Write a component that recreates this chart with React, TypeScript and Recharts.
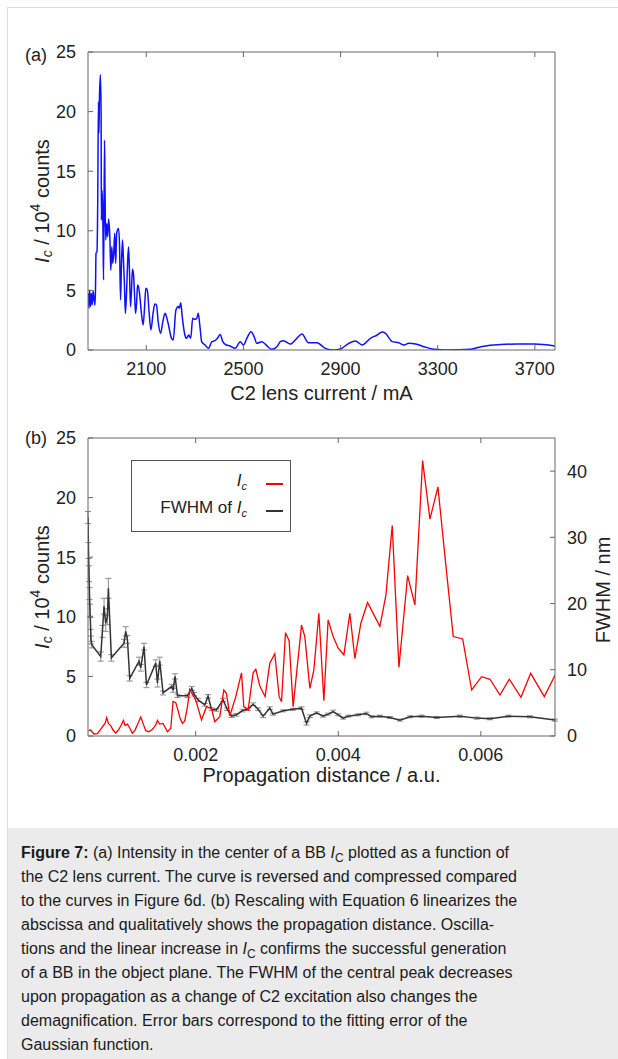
import React from "react";
import {
  LineChart,
  Line,
  XAxis,
  YAxis,
  Legend,
  ErrorBar,
} from "recharts";

// (a) centre intensity vs C2 lens current
const lensCurrent = [
  1860, 1862, 1864, 1867, 1870, 1874, 1877, 1881, 1885, 1889, 1891, 1893, 1897, 1900, 1903, 1905, 1907,
  1911, 1914, 1915, 1918, 1921, 1924, 1928, 1930, 1933, 1937, 1941, 1945, 1950, 1954, 1958, 1962, 1966,
  1970, 1974, 1978, 1982, 1986, 1990, 1994, 1998, 2002, 2006, 2010, 2014, 2019, 2023, 2027, 2031, 2035,
  2039, 2043, 2047, 2052, 2056, 2060, 2064, 2068, 2073, 2080, 2087, 2093, 2098, 2104, 2112, 2119, 2128,
  2135, 2142, 2149, 2159, 2167, 2177, 2181, 2190, 2204, 2211, 2222, 2232, 2236, 2242, 2248, 2259, 2266,
  2275, 2283, 2291, 2301, 2308, 2314, 2321, 2328, 2342, 2356, 2370, 2383, 2393, 2404, 2415, 2429, 2445,
  2466, 2487, 2500, 2514, 2531, 2544, 2555, 2576, 2597, 2617, 2638, 2652, 2665, 2693, 2720, 2741, 2768,
  2803, 2837, 2872, 2899, 2934, 2961, 2989, 3023, 3051, 3071, 3085, 3113, 3140, 3161, 3181, 3209, 3243,
  3285, 3340, 3436, 3478, 3560, 3629, 3698, 3783,
];
const centreIntensityA = [
  4.3, 4.75, 3.5, 5.03, 3.64, 4.75, 3.78, 4.95, 4.19, 3.78, 5.3, 8.11, 8.25, 12.3, 20.8, 18.2, 21.0,
  23.1, 19.9, 10.9, 13.4, 11.2, 5.87, 17.6, 13.7, 9.23, 10.6, 9.5, 11.0, 9.5, 6.7, 8.67, 7.27, 8.11,
  9.79, 7.27, 9.79, 10.1, 10.2, 8.67, 4.19, 7.27, 9.23, 7.55, 5.59, 3.07, 4.95, 7.27, 8.67, 6.43, 3.64,
  4.95, 6.77, 6.43, 4.47, 3.07, 3.91, 5.45, 5.3, 4.6, 3.08, 2.1, 3.6, 5.17, 5.03, 3.08, 1.68, 3.08,
  3.86, 3.78, 2.38, 1.4, 2.24, 3.08, 2.94, 2.24, 0.98, 0.84, 3.36, 3.64, 3.5, 3.97, 2.8, 1.26, 0.98,
  1.26, 0.98, 2.66, 2.57, 2.66, 3.08, 1.96, 0.7, 0.42, 0.14, 0.7, 0.78, 0.98, 1.31, 0.7, 0.42, 0.34,
  0.14, 0.7, 0.42, 0.98, 1.54, 1.12, 0.56, 0.7, 0.34, 0.06, 0.28, 0.7, 0.78, 0.5, 0.98, 1.34, 0.61,
  0.61, 0.14, 0.0, 0.08, 0.56, 0.75, 0.42, 0.98, 1.26, 1.51, 1.4, 0.7, 0.61, 0.42, 0.56, 0.5, 0.28,
  0.06, 0.0, 0.06, 0.28, 0.47, 0.5, 0.5, 0.34,
];
const currentTicks = [2100, 2500, 2900, 3300, 3700];
const countTicks = [0, 5, 10, 15, 20, 25];

// (b) rescaled: intensity and FWHM vs propagation distance
const distIc = [
  0.000496, 0.000528, 0.000574, 0.000622, 0.000668, 0.000701, 0.000729, 0.000752, 0.000776, 0.000809,
  0.000841, 0.000879, 0.000917, 0.000949, 0.000987, 0.001009, 0.001043, 0.001075, 0.001113, 0.00115,
  0.001192, 0.00123, 0.001262, 0.0013, 0.001346, 0.001394, 0.00144, 0.001464, 0.001496, 0.001543,
  0.001604, 0.001651, 0.001683, 0.001721, 0.001749, 0.001781, 0.001815, 0.001847, 0.001885, 0.001917,
  0.002002, 0.002082, 0.002152, 0.002222, 0.002268, 0.002338, 0.002395, 0.002432, 0.002479, 0.002563,
  0.002643, 0.002675, 0.002736, 0.002806, 0.002844, 0.0029, 0.002974, 0.00304, 0.00311, 0.003171,
  0.003204, 0.00326, 0.003311, 0.003367, 0.003485, 0.003531, 0.003602, 0.003658, 0.003728, 0.003798,
  0.003858, 0.003929, 0.003999, 0.004079, 0.004163, 0.004233, 0.004317, 0.004411, 0.0045, 0.004584,
  0.004668, 0.004757, 0.004851, 0.004973, 0.005075, 0.005183, 0.005286, 0.005398, 0.005506, 0.005613,
  0.005745, 0.005871, 0.006011, 0.006128, 0.006268, 0.006399, 0.006563, 0.006699, 0.00689, 0.00704,
];
const intensityB = [
  0.45, 0.5, 0.17, 0.2, 0.56, 0.84, 1.06, 1.54, 1.06, 0.87,
  0.5, 0.25, 0.5, 0.84, 1.3, 0.9, 1.0, 0.67, 0.22, 0.5,
  1.06, 1.6, 1.06, 0.45, 0.36, 0.56, 0.92, 1.3, 1.0, 1.06,
  0.36, 0.64, 2.9, 2.8, 2.24, 1.48, 1.06, 1.26, 2.46, 3.9,
  3.0, 1.34, 2.46, 2.3, 1.2, 1.62, 3.86, 3.58, 1.68, 3.3,
  5.3, 2.46, 2.18, 5.3, 5.6, 4.2, 3.3, 6.1, 6.9, 3.3,
  2.88, 8.67, 8.0, 2.46, 9.3, 8.34, 4.0, 5.54, 10.3, 2.96,
  9.74, 8.34, 7.36, 6.8, 10.3, 6.5, 9.46, 11.2, 10.16, 9.2,
  11.8, 17.66, 5.76, 13.46, 11.0, 23.1, 18.2, 20.9, 14.5, 8.34,
  8.14, 3.86, 4.98, 4.76, 3.44, 4.76, 3.25, 5.26, 3.3, 5.1,
];
const distFwhm = [
  0.00049, 0.000497, 0.000504, 0.000511, 0.000518, 0.000525, 0.000532, 0.000542, 0.000668, 0.000692,
  0.000715, 0.000738, 0.000762, 0.000776, 0.000818, 0.000995, 0.001019, 0.001043, 0.001075, 0.001206,
  0.00123, 0.001276, 0.00131, 0.00144, 0.001464, 0.001496, 0.001543, 0.001665, 0.001683, 0.001711,
  0.001745, 0.001885, 0.001945, 0.001978, 0.002034, 0.002128, 0.002174, 0.002222, 0.002292, 0.002385,
  0.002441, 0.002503, 0.002573, 0.002657, 0.002736, 0.002806, 0.002876, 0.002946, 0.00304, 0.003086,
  0.003227, 0.003367, 0.003485, 0.003555, 0.003602, 0.003696, 0.003788, 0.003858, 0.003929, 0.003999,
  0.004069, 0.004139, 0.004279, 0.004397, 0.004467, 0.004584, 0.004724, 0.004865, 0.005005, 0.005169,
  0.00538, 0.005707, 0.005941, 0.006128, 0.006385, 0.006689, 0.00704,
];
const fwhmNm = [
  33.0, 28, 24.5, 21.5, 19, 17, 14.5, 13.8, 12.0, 15.8,
  19.6, 17.0, 18, 22.3, 11.8, 14.0, 15.8, 14.6, 8.7, 11.3,
  10.3, 13.5, 7.7, 11.0, 8.0, 11.3, 6.5, 7.5, 6.9, 9.0,
  6.06, 6.06, 7.2, 6.3, 5.45, 4.7, 6.0, 4.04, 3.94, 5.45,
  4.04, 3.0, 3.2, 3.84, 4.04, 4.8, 4.04, 3.0, 4.2, 3.3,
  3.8, 4.04, 4.2, 1.9, 3.0, 3.5, 3.0, 3.3, 3.7, 3.2,
  2.7, 3.0, 3.2, 3.4, 2.9, 3.0, 2.8, 2.4, 2.9, 3.0,
  2.8, 3.0, 2.7, 2.6, 3.0, 2.9, 2.4,
];
const fwhmErr = [
  0.9, 1.2, 1.2, 0.9, 0.9, 0.9, 0.6, 0.5, 0.7, 0.9,
  1.2, 1.2, 1.2, 1.5, 0.5, 0.6, 0.7, 0.6, 0.4, 0.6,
  0.5, 0.5, 0.4, 0.5, 0.6, 0.6, 0.3, 0.3, 0.3, 0.4,
  0.25, 0.25, 0.3, 0.25, 0.25, 0.2, 0.25, 0.2, 0.2, 0.25,
  0.2, 0.2, 0.2, 0.2, 0.2, 0.2, 0.2, 0.2, 0.2, 0.15,
  0.15, 0.15, 0.2, 0.25, 0.2, 0.15, 0.15, 0.15, 0.2, 0.15,
  0.15, 0.15, 0.15, 0.2, 0.15, 0.15, 0.15, 0.15, 0.15, 0.15,
  0.15, 0.15, 0.15, 0.15, 0.15, 0.15, 0.15,
];
const distTicks = [0.002, 0.004, 0.006];
const fwhmTicks = [0, 10, 20, 30, 40];

const dataA = lensCurrent.map((x, i) => ({ x, y: centreIntensityA[i] }));
const dataIc = distIc.map((x, i) => ({ x, y: intensityB[i] }));
const dataFwhm = distFwhm.map((x, i) => ({ x, y: fwhmNm[i], err: fwhmErr[i] }));

const FONT = "'Liberation Sans', Arial, Helvetica, sans-serif";
const AXIS = "#666";
const TXT = "#222";
const tickStyle = { fontSize: 18, fill: TXT, fontFamily: FONT };
const blank = () => "";

const yTitle = (cx: number, cy: number, tag: string, tagY: number) => () => (
  <g fontFamily={FONT} fill={TXT}>
    <text x={36} y={tagY} fontSize={18} textAnchor="middle">{tag}</text>
    <text
      x={cx}
      y={cy}
      fontSize={20}
      textAnchor="middle"
      dominantBaseline="central"
      transform={`rotate(-90, ${cx}, ${cy})`}
    >
      <tspan fontStyle="italic">I</tspan>
      <tspan fontStyle="italic" fontSize={14} dy={5}>c</tspan>
      <tspan dy={-5}> / 10</tspan>
      <tspan fontSize={14} dy={-7}>4</tspan>
      <tspan dy={7}> counts</tspan>
    </text>
  </g>
);

const xTitle = (cx: number, y: number, value: string) => () => (
  <text x={cx} y={y} fontSize={20} textAnchor="middle" fontFamily={FONT} fill={TXT}>
    {value}
  </text>
);

const fwhmTitle = () => (
  <text
    x={603}
    y={180}
    fontSize={20}
    textAnchor="middle"
    dominantBaseline="central"
    fontFamily={FONT}
    fill={TXT}
    transform="rotate(-90, 603, 180)"
  >
    FWHM / nm
  </text>
);

const legendRows = [
  { key: "ic", color: "#ff0000", label: <><i>I</i><sub style={{ fontSize: 11, fontStyle: "italic" }}>c</sub></> },
  { key: "fwhm", color: "#333333", label: <>FWHM of <i>I</i><sub style={{ fontSize: 11, fontStyle: "italic" }}>c</sub></> },
];

const LegendBox = () => (
  <div
    style={{
      width: 160,
      height: 72,
      boxSizing: "border-box",
      border: "1px solid #555",
      background: "#fff",
      fontFamily: FONT,
      fontSize: 17,
      color: TXT,
      paddingTop: 9,
    }}
  >
    {legendRows.map((row) => (
      <div key={row.key} style={{ display: "flex", alignItems: "center", height: 27 }}>
        <div style={{ width: 115, textAlign: "right", lineHeight: "20px" }}>{row.label}</div>
        <div style={{ marginLeft: 19, width: 17, height: 2, background: row.color }} />
      </div>
    ))}
  </div>
);

function Sub({ children }: { children: React.ReactNode }) {
  return (
    <span style={{ fontSize: 12, position: "relative", top: 4, lineHeight: 0 }}>{children}</span>
  );
}

const captionLines = [
  <><b>Figure 7:</b> (a) Intensity in the center of a BB <i>I</i><Sub>C</Sub> plotted as a function of</>,
  <>the C2 lens current. The curve is reversed and compressed compared</>,
  <>to the curves in Figure 6d. (b) Rescaling with Equation 6 linearizes the</>,
  <>abscissa and qualitatively shows the propagation distance. Oscilla-</>,
  <>tions and the linear increase in <i>I</i><Sub>C</Sub> confirms the successful generation</>,
  <>of a BB in the object plane. The FWHM of the central peak decreases</>,
  <>upon propagation as a change of C2 excitation also changes the</>,
  <>demagnification. Error bars correspond to the fitting error of the</>,
  <>Gaussian function.</>,
];

export default function App() {
  return (
    <div
      style={{
        position: "absolute",
        left: 0,
        top: 0,
        width: 618,
        height: 1059,
        overflow: "hidden",
        background: "#fff",
      }}
    >
      <div
        style={{
          position: "absolute",
          left: 7,
          top: 7,
          right: 0,
          bottom: 0,
          borderLeft: "1px solid #ddd",
          borderTop: "1px solid #ddd",
        }}
      />

      <div style={{ position: "absolute", left: 0, top: 0 }}>
        <LineChart width={618} height={410} margin={{ top: 0, right: 0, bottom: 0, left: 0 }}>
          <XAxis
            xAxisId="b"
            type="number"
            dataKey="x"
            domain={[1860, 3783]}
            allowDataOverflow
            ticks={currentTicks}
            height={60}
            stroke={AXIS}
            tickSize={-5}
            tickMargin={17}
            tick={tickStyle}
            label={{ content: xTitle(321.5, 400, "C2 lens current / mA") }}
          />
          <XAxis
            xAxisId="t"
            orientation="top"
            type="number"
            dataKey="x"
            domain={[1860, 3783]}
            allowDataOverflow
            ticks={currentTicks}
            height={52}
            stroke={AXIS}
            tickSize={-5}
            tickFormatter={blank}
          />
          <YAxis
            yAxisId="l"
            type="number"
            domain={[0, 25]}
            allowDataOverflow
            ticks={countTicks}
            width={88}
            stroke={AXIS}
            tickSize={-5}
            tickMargin={17}
            tick={tickStyle}
            label={{ content: yTitle(42, 201, "(a)", 61) }}
          />
          <YAxis
            yAxisId="r"
            orientation="right"
            type="number"
            domain={[0, 25]}
            width={63}
            stroke={AXIS}
            tick={false}
            tickLine={false}
          />
          <Line
            xAxisId="b"
            yAxisId="l"
            data={dataA}
            dataKey="y"
            type="monotone"
            stroke="#1010ff"
            strokeWidth={1.5}
            dot={false}
            isAnimationActive={false}
          />
        </LineChart>
      </div>

      <div style={{ position: "absolute", left: 0, top: 410 }}>
        <LineChart width={618} height={400} margin={{ top: 0, right: 0, bottom: 0, left: 0 }}>
          <XAxis
            xAxisId="b"
            type="number"
            dataKey="x"
            domain={[0.00049, 0.00704]}
            allowDataOverflow
            ticks={distTicks}
            tickFormatter={(v: number) => v.toFixed(3)}
            height={74}
            stroke={AXIS}
            tickSize={-5}
            tickMargin={17}
            tick={tickStyle}
            label={{ content: xTitle(321.5, 372, "Propagation distance / a.u.") }}
          />
          <XAxis
            xAxisId="t"
            orientation="top"
            type="number"
            dataKey="x"
            domain={[0.00049, 0.00704]}
            allowDataOverflow
            ticks={distTicks}
            height={28}
            stroke={AXIS}
            tickSize={-5}
            tickFormatter={blank}
          />
          <YAxis
            yAxisId="l"
            type="number"
            domain={[0, 25]}
            allowDataOverflow
            ticks={countTicks}
            width={88}
            stroke={AXIS}
            tickSize={-5}
            tickMargin={17}
            tick={tickStyle}
            label={{ content: yTitle(42, 177, "(b)", 34) }}
          />
          <YAxis
            yAxisId="r"
            orientation="right"
            type="number"
            domain={[0, 45]}
            allowDataOverflow
            ticks={fwhmTicks}
            width={63}
            stroke={AXIS}
            tickSize={-5}
            tickMargin={17}
            tick={tickStyle}
            label={{ content: fwhmTitle }}
          />
          <Legend
            layout="vertical"
            align="center"
            verticalAlign="middle"
            content={LegendBox}
            wrapperStyle={{ left: 131, top: 50, width: 160, height: 72 }}
          />
          <Line
            xAxisId="b"
            yAxisId="r"
            data={dataFwhm}
            dataKey="y"
            name="FWHM"
            type="linear"
            stroke="#333"
            strokeWidth={1.5}
            dot={false}
            isAnimationActive={false}
          >
            <ErrorBar dataKey="err" width={3} stroke="#8c8c8c" strokeWidth={1} direction="y" />
          </Line>
          <Line
            xAxisId="b"
            yAxisId="l"
            data={dataIc}
            dataKey="y"
            name="Ic"
            type="linear"
            stroke="#ff0000"
            strokeWidth={1.3}
            dot={false}
            isAnimationActive={false}
          />
        </LineChart>
      </div>

      <div
        style={{
          position: "absolute",
          left: 8,
          top: 828,
          right: 0,
          bottom: 0,
          background: "#ebebeb",
          padding: "13px 0 0 13px",
          boxSizing: "border-box",
          fontFamily: FONT,
          fontSize: 16,
          lineHeight: "24px",
          color: "#1a1a1a",
        }}
      >
        {captionLines.map((line, i) => (
          <div key={i} style={{ whiteSpace: "nowrap" }}>{line}</div>
        ))}
      </div>
    </div>
  );
}
